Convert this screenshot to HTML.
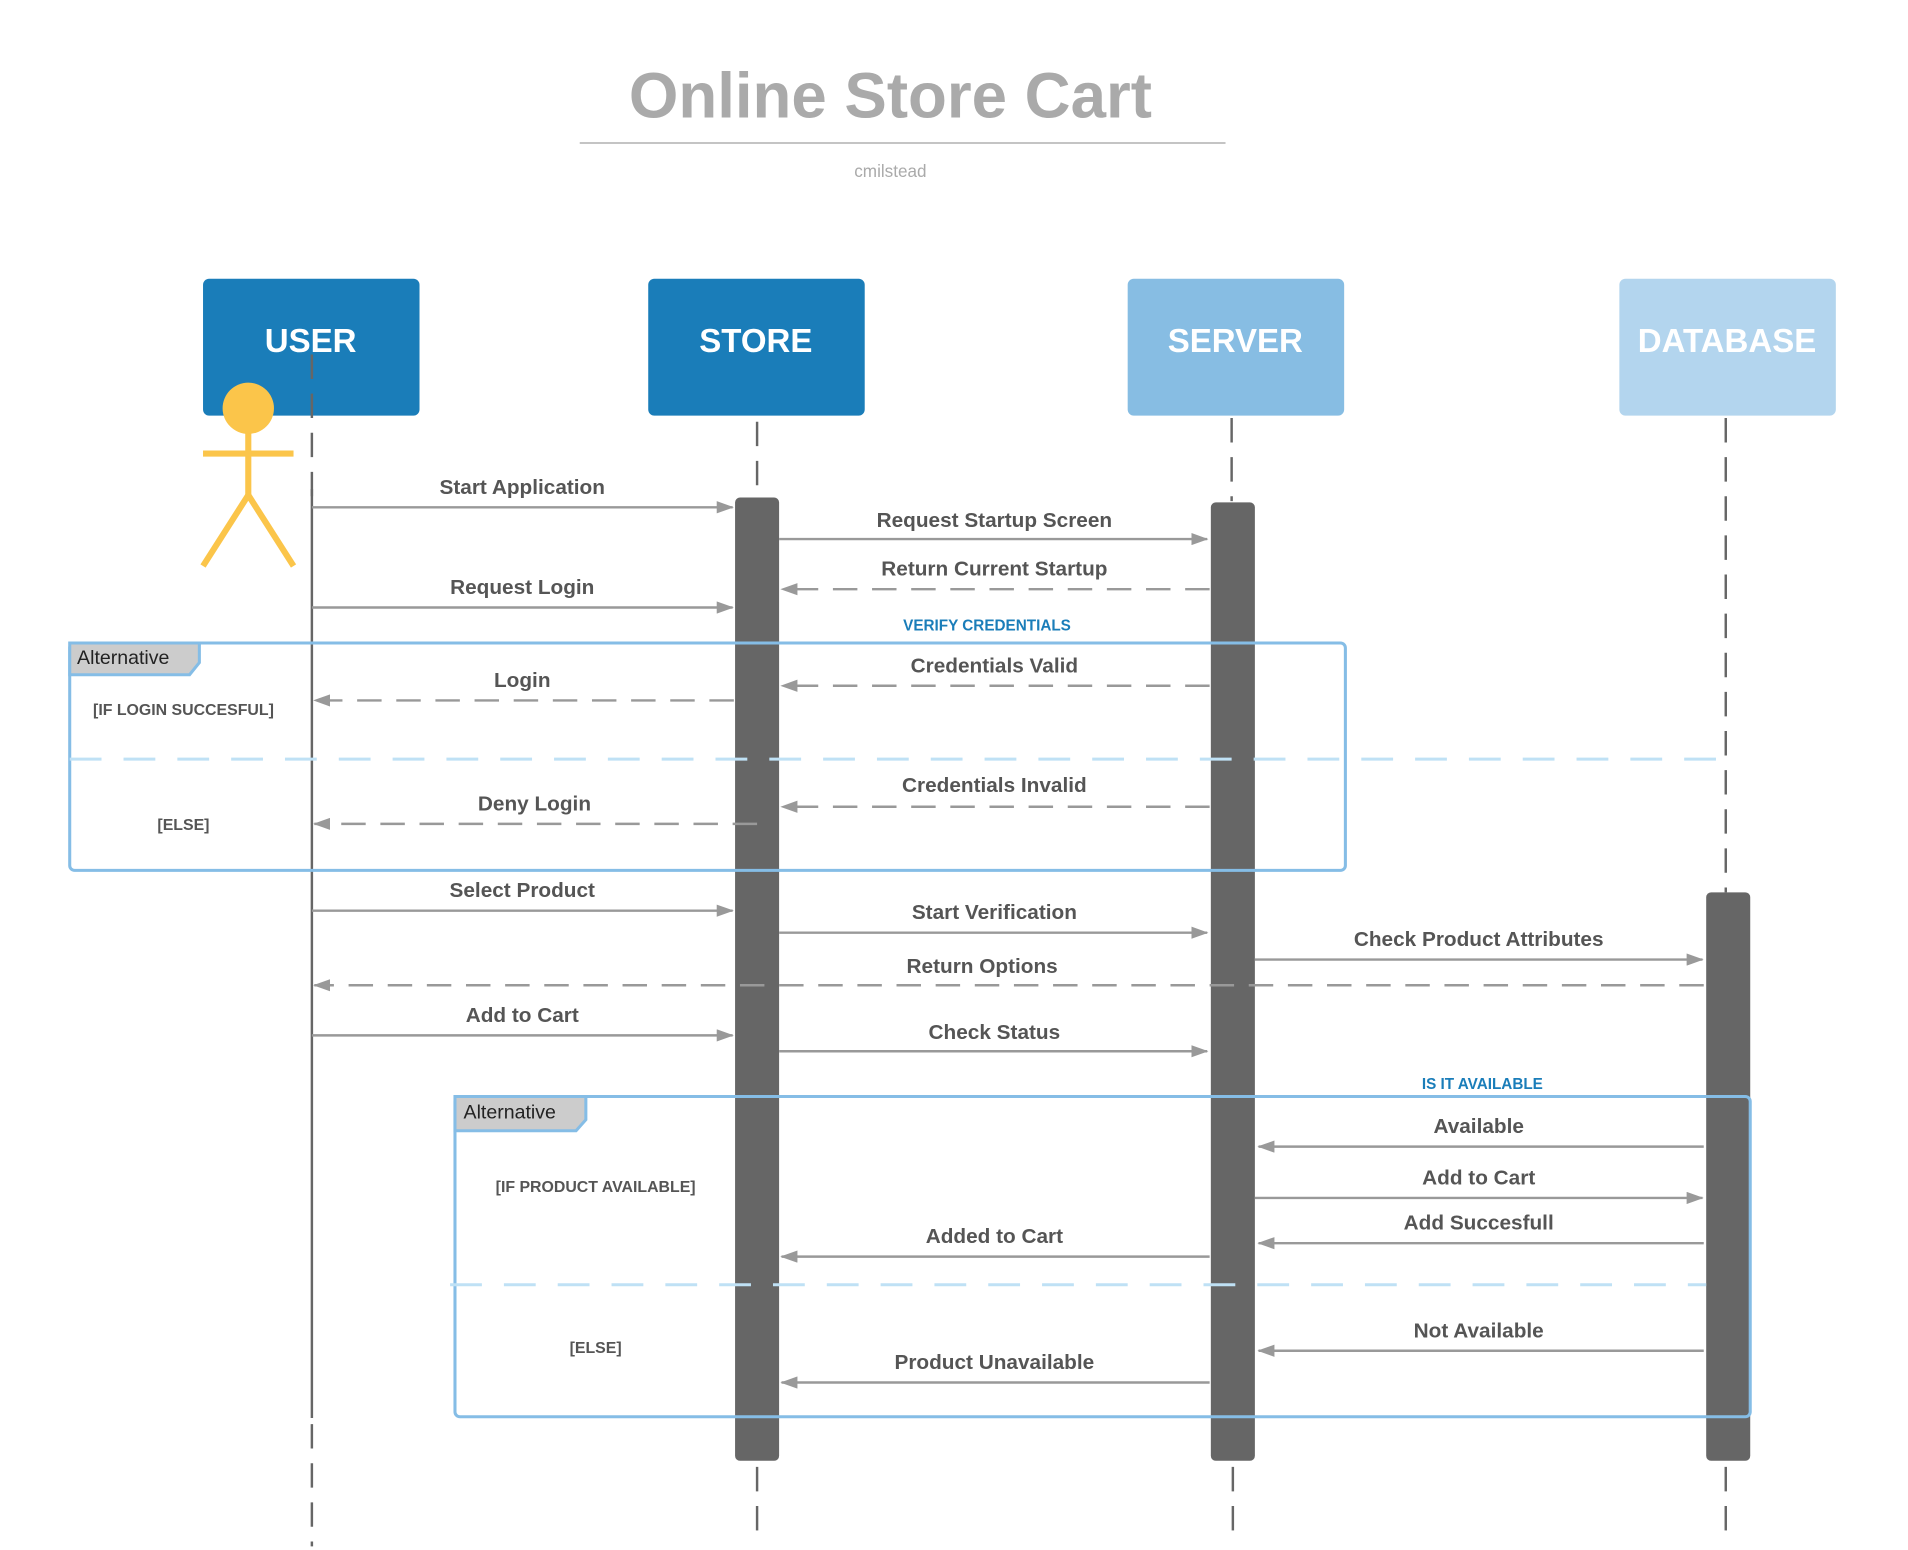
<!DOCTYPE html>
<html><head><meta charset="utf-8"><style>html,body{margin:0;padding:0;background:#fff}svg{display:block}</style></head>
<body>
<svg width="1908" height="1550" viewBox="0 0 1560 1268" preserveAspectRatio="none" xmlns="http://www.w3.org/2000/svg" font-family="Liberation Sans, sans-serif">
<defs>
<marker id="a" viewBox="0 0 14 10" refX="13" refY="5" markerWidth="14" markerHeight="10" markerUnits="userSpaceOnUse" orient="auto"><path d="M0,0 L14,5 L0,10 z" fill="#999"/></marker>
</defs>
<text x="728" y="96" text-anchor="middle" font-size="52" font-weight="bold" fill="#aaa">Online Store Cart</text>
<line x1="474" y1="117" x2="1002" y2="117" stroke="#bbb" stroke-width="1.5"/>
<text x="728" y="145" text-anchor="middle" font-size="14" fill="#aaa">cmilstead</text>

<rect x="166" y="228" width="177" height="112" rx="5" fill="#1a7db9"/>
<rect x="530" y="228" width="177" height="112" rx="5" fill="#1a7db9"/>
<rect x="922" y="228" width="177" height="112" rx="5" fill="#87bde3"/>
<rect x="1324" y="228" width="177" height="112" rx="5" fill="#b3d5ee"/>
<g font-size="27" font-weight="bold" fill="#fff" text-anchor="middle">
<text x="254" y="288">USER</text><text x="618" y="288">STORE</text><text x="1010" y="288">SERVER</text><text x="1412" y="288">DATABASE</text></g>

<g stroke="#666" stroke-width="2" fill="none">
<line x1="255" y1="290" x2="255" y2="410" stroke-dasharray="20,12"/>
<line x1="255" y1="400" x2="255" y2="1160"/>
<line x1="255" y1="1165" x2="255" y2="1265" stroke-dasharray="20,12"/>
<line x1="619" y1="345" x2="619" y2="405" stroke-dasharray="20,12"/>
<line x1="619" y1="1200" x2="619" y2="1255" stroke-dasharray="20,12"/>
<line x1="1007" y1="342" x2="1007" y2="410" stroke-dasharray="20,12"/>
<line x1="1008" y1="1200" x2="1008" y2="1255" stroke-dasharray="20,12"/>
<line x1="1411" y1="342" x2="1411" y2="730" stroke-dasharray="20,12"/>
<line x1="1411" y1="1200" x2="1411" y2="1255" stroke-dasharray="20,12"/>
</g>

<rect x="601" y="407" width="36" height="788" rx="4" fill="#666"/>
<rect x="990" y="411" width="36" height="784" rx="4" fill="#666"/>
<rect x="1395" y="730" width="36" height="465" rx="4" fill="#666"/>

<g stroke="#fbc54a" stroke-width="5" fill="none">
<line x1="203" y1="350" x2="203" y2="405"/>
<line x1="166" y1="371" x2="240" y2="371"/>
<polyline points="166,463 203,405 240,463"/>
</g>
<ellipse cx="203" cy="334" rx="21" ry="21" fill="#fbc54a"/>

<!-- frames -->
<rect x="57" y="526" width="1043" height="186" rx="4" fill="none" stroke="#85bde6" stroke-width="2.5"/>
<polygon points="57,526 163,526 163,542 155,552 57,552" fill="#ccc" stroke="#85bde6" stroke-width="2.5"/>
<text x="63" y="543" font-size="16" fill="#222">Alternative</text>
<line x1="57" y1="621" x2="1411" y2="621" stroke="#bfe1f5" stroke-width="2.5" stroke-dasharray="26,18"/>

<rect x="372" y="897" width="1059" height="262" rx="4" fill="none" stroke="#85bde6" stroke-width="2.5"/>
<polygon points="372,897 479,897 479,916 471,925 372,925" fill="#ccc" stroke="#85bde6" stroke-width="2.5"/>
<text x="379" y="915" font-size="16" fill="#222">Alternative</text>
<line x1="368" y1="1051" x2="1395" y2="1051" stroke="#bfe1f5" stroke-width="2.5" stroke-dasharray="26,18"/>

<g stroke="#999" stroke-width="2" marker-end="url(#a)" fill="none">
<line x1="255" y1="415" x2="599" y2="415"/>
<line x1="637" y1="441" x2="987" y2="441"/>
<line x1="989" y1="482" x2="639" y2="482" stroke-dasharray="20,12"/>
<line x1="255" y1="497" x2="599" y2="497"/>
<line x1="989" y1="561" x2="639" y2="561" stroke-dasharray="20,12"/>
<line x1="600" y1="573" x2="257" y2="573" stroke-dasharray="20,12"/>
<line x1="989" y1="660" x2="639" y2="660" stroke-dasharray="20,12"/>
<line x1="619" y1="674" x2="257" y2="674" stroke-dasharray="20,12"/>
<line x1="255" y1="745" x2="599" y2="745"/>
<line x1="637" y1="763" x2="987" y2="763"/>
<line x1="1026" y1="785" x2="1392" y2="785"/>
<line x1="1393" y1="806" x2="257" y2="806" stroke-dasharray="20,12"/>
<line x1="255" y1="847" x2="599" y2="847"/>
<line x1="637" y1="860" x2="987" y2="860"/>
<line x1="1393" y1="938" x2="1029" y2="938"/>
<line x1="1026" y1="980" x2="1392" y2="980"/>
<line x1="1393" y1="1017" x2="1029" y2="1017"/>
<line x1="989" y1="1028" x2="639" y2="1028"/>
<line x1="1393" y1="1105" x2="1029" y2="1105"/>
<line x1="989" y1="1131" x2="639" y2="1131"/>
</g>

<g font-size="17" font-weight="bold" fill="#555" text-anchor="middle">
<text x="427" y="404">Start Application</text>
<text x="813" y="431">Request Startup Screen</text>
<text x="813" y="471">Return Current Startup</text>
<text x="427" y="486">Request Login</text>
<text x="813" y="550">Credentials Valid</text>
<text x="427" y="562">Login</text>
<text x="813" y="648">Credentials Invalid</text>
<text x="437" y="663">Deny Login</text>
<text x="427" y="734">Select Product</text>
<text x="813" y="752">Start Verification</text>
<text x="1209" y="774">Check Product Attributes</text>
<text x="803" y="796">Return Options</text>
<text x="427" y="836">Add to Cart</text>
<text x="813" y="850">Check Status</text>
<text x="1209" y="927">Available</text>
<text x="1209" y="969">Add to Cart</text>
<text x="1209" y="1006">Add Succesfull</text>
<text x="813" y="1017">Added to Cart</text>
<text x="1209" y="1094">Not Available</text>
<text x="813" y="1120">Product Unavailable</text>
</g>
<g font-size="13" font-weight="bold" fill="#555" text-anchor="middle">
<text x="150" y="585">[IF LOGIN SUCCESFUL]</text>
<text x="150" y="679">[ELSE]</text>
<text x="487" y="975">[IF PRODUCT AVAILABLE]</text>
<text x="487" y="1107">[ELSE]</text>
</g>
<g font-size="12.5" font-weight="bold" fill="#1a7db9" text-anchor="middle">
<text x="807" y="516">VERIFY CREDENTIALS</text>
<text x="1212" y="891">IS IT AVAILABLE</text>
</g>
</svg>
</body></html>
